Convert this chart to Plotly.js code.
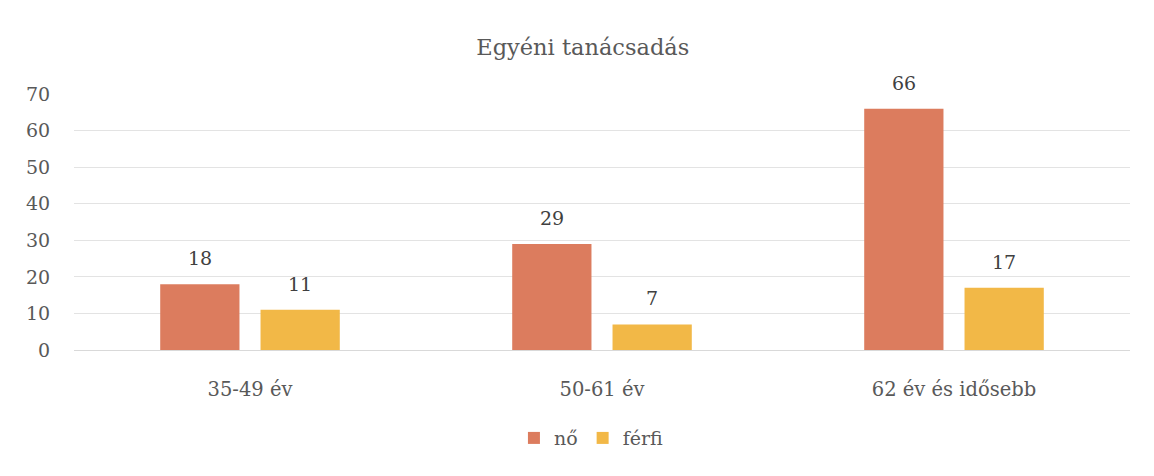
<!DOCTYPE html>
<html>
<head>
<meta charset="utf-8">
<script src="https://cdn.plot.ly/plotly-3.0.1.min.js"></script>
<style>html,body{margin:0;padding:0;background:#fff;}#chart{width:1154px;height:476px;}</style>
</head>
<body>
<div id="chart"></div>
<script>
var categories = ["35-49 év", "50-61 év", "62 év és idősebb"];
var seriesNames = ["nő", "férfi"];
var noValues = [18, 29, 66];
var ferfiValues = [11, 7, 17];
var yTicks = [0, 10, 20, 30, 40, 50, 60, 70];
var colors = ["#DC7C5E", "#F2B847"];
var FONT = "DejaVu Serif, serif";

function barTrace(name, vals, color) {
  return {
    type: "bar", name: name, x: categories, y: vals,
    marker: {color: color},
    hoverinfo: "none"
  };
}

var data = [
  barTrace(seriesNames[0], noValues, colors[0]),
  barTrace(seriesNames[1], ferfiValues, colors[1])
];

// value labels placed above each bar via the axis scales
var annotations = [];
var seriesVals = [noValues, ferfiValues];
var offsets = [-50, 50];
seriesVals.forEach(function (vals, s) {
  vals.forEach(function (v, i) {
    annotations.push({
      x: categories[i], y: v, xref: "x", yref: "y",
      text: String(v), showarrow: false,
      xshift: offsets[s], yshift: 26, yanchor: "middle", xanchor: "center",
      font: {family: FONT, size: 19, color: "#404040"}
    });
  });
});

var layout = {
  width: 1154, height: 476,
  margin: {l: 74, r: 24, t: 94, b: 126},
  paper_bgcolor: "#fff", plot_bgcolor: "#fff",
  font: {family: FONT, color: "#595959", size: 19},
  title: {text: "Egyéni tanácsadás", x: 0.505, xref: "container", xanchor: "center",
          y: 0.9, yref: "container", yanchor: "middle",
          font: {family: FONT, size: 22.5, color: "#595959"}},
  barmode: "group", bargap: 0.43, bargroupgap: 0.21,
  annotations: annotations,
  xaxis: {type: "category", showgrid: false, zeroline: false, showline: false,
          ticks: "outside", ticklen: 22, tickcolor: "rgba(0,0,0,0)",
          tickfont: {family: FONT, size: 19.5, color: "#595959"}},
  yaxis: {range: [0, 70], tickvals: yTicks, showgrid: true, gridcolor: "#e3e3e3", gridwidth: 1,
          zeroline: true, zerolinecolor: "#d9d9d9", showline: false,
          ticks: "outside", ticklen: 19, tickcolor: "rgba(0,0,0,0)",
          tickfont: {family: FONT, size: 19, color: "#595959"}},
  showlegend: true,
  legend: {orientation: "h", x: 0.49, xanchor: "center", y: -0.344, yanchor: "middle",
           font: {family: FONT, size: 19, color: "#595959"}, itemwidth: 30,
           traceorder: "normal"}
};

Plotly.newPlot("chart", data, layout, {displayModeBar: false, staticPlot: true});
</script>
</body>
</html>
